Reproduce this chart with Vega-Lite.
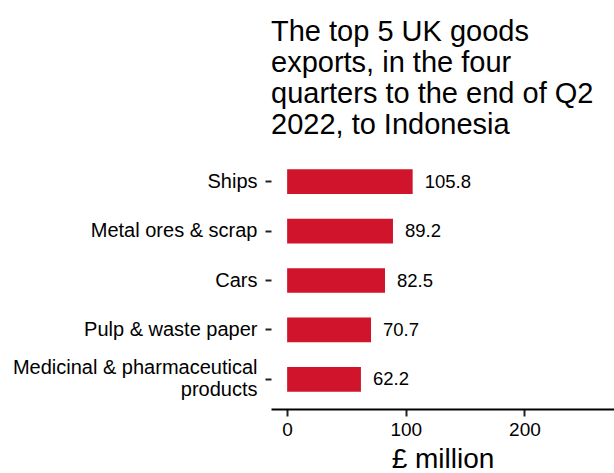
{
  "$schema": "https://vega.github.io/schema/vega-lite/v6.json",
  "autosize": "none",
  "width": 343,
  "height": 257,
  "padding": {"left": 271, "top": 152, "right": 0, "bottom": 64},
  "background": "white",
  "title": {
    "text": ["The top 5 UK goods", "exports, in the four", "quarters to the end of Q2", "2022, to Indonesia"],
    "anchor": "start",
    "frame": "group",
    "font": "Liberation Sans",
    "fontSize": 29,
    "fontWeight": "normal",
    "lineHeight": 31,
    "color": "black",
    "offset": 12
  },
  "data": {
    "values": [
      {"product": "Ships", "value": 105.8},
      {"product": "Metal ores & scrap", "value": 89.2},
      {"product": "Cars", "value": 82.5},
      {"product": "Pulp & waste paper", "value": 70.7},
      {"product": "Medicinal & pharmaceutical products", "value": 62.2}
    ]
  },
  "config": {
    "view": {"stroke": null},
    "font": "Liberation Sans"
  },
  "encoding": {
    "y": {
      "field": "product",
      "type": "nominal",
      "sort": "-x",
      "scale": {"paddingInner": 0.5, "paddingOuter": 0.35},
      "axis": {
        "title": null,
        "domain": false,
        "ticks": true,
        "tickSize": 6,
        "tickWidth": 2,
        "tickColor": "#222222",
        "labelPadding": 8,
        "labelFont": "Liberation Sans",
        "labelFontSize": 20,
        "labelColor": "black",
        "labelLimit": 400,
        "labelLineHeight": 22,
        "labelOffset": {"condition": {"test": "datum.label == 'Medicinal & pharmaceutical products'", "value": -11}, "value": 0},
        "labelExpr": "datum.label == 'Medicinal & pharmaceutical products' ? ['Medicinal & pharmaceutical', 'products'] : datum.label"
      }
    },
    "x": {
      "field": "value",
      "type": "quantitative",
      "scale": {"domain": [-13.6, 275.5], "nice": false, "zero": false},
      "axis": {
        "title": "£ million",
        "titleFont": "Liberation Sans",
        "titleFontSize": 28,
        "titleFontWeight": "normal",
        "titleColor": "black",
        "titlePadding": 6,
        "values": [0, 100, 200],
        "grid": false,
        "domain": true,
        "domainColor": "black",
        "domainWidth": 2,
        "ticks": true,
        "tickSize": 7,
        "tickWidth": 2,
        "tickColor": "#222222",
        "labelFont": "Liberation Sans",
        "labelFontSize": 19,
        "labelColor": "black",
        "labelPadding": 4
      }
    }
  },
  "layer": [
    {
      "mark": {"type": "bar", "color": "#CF142B", "x": {"expr": "scale('x', 0)"}},
      "encoding": {}
    },
    {
      "mark": {"type": "text", "align": "left", "baseline": "middle", "dx": 12, "fontSize": 18.5, "font": "Liberation Sans", "color": "black"},
      "encoding": {"text": {"field": "value", "type": "quantitative", "format": ".1f"}}
    }
  ]
}
